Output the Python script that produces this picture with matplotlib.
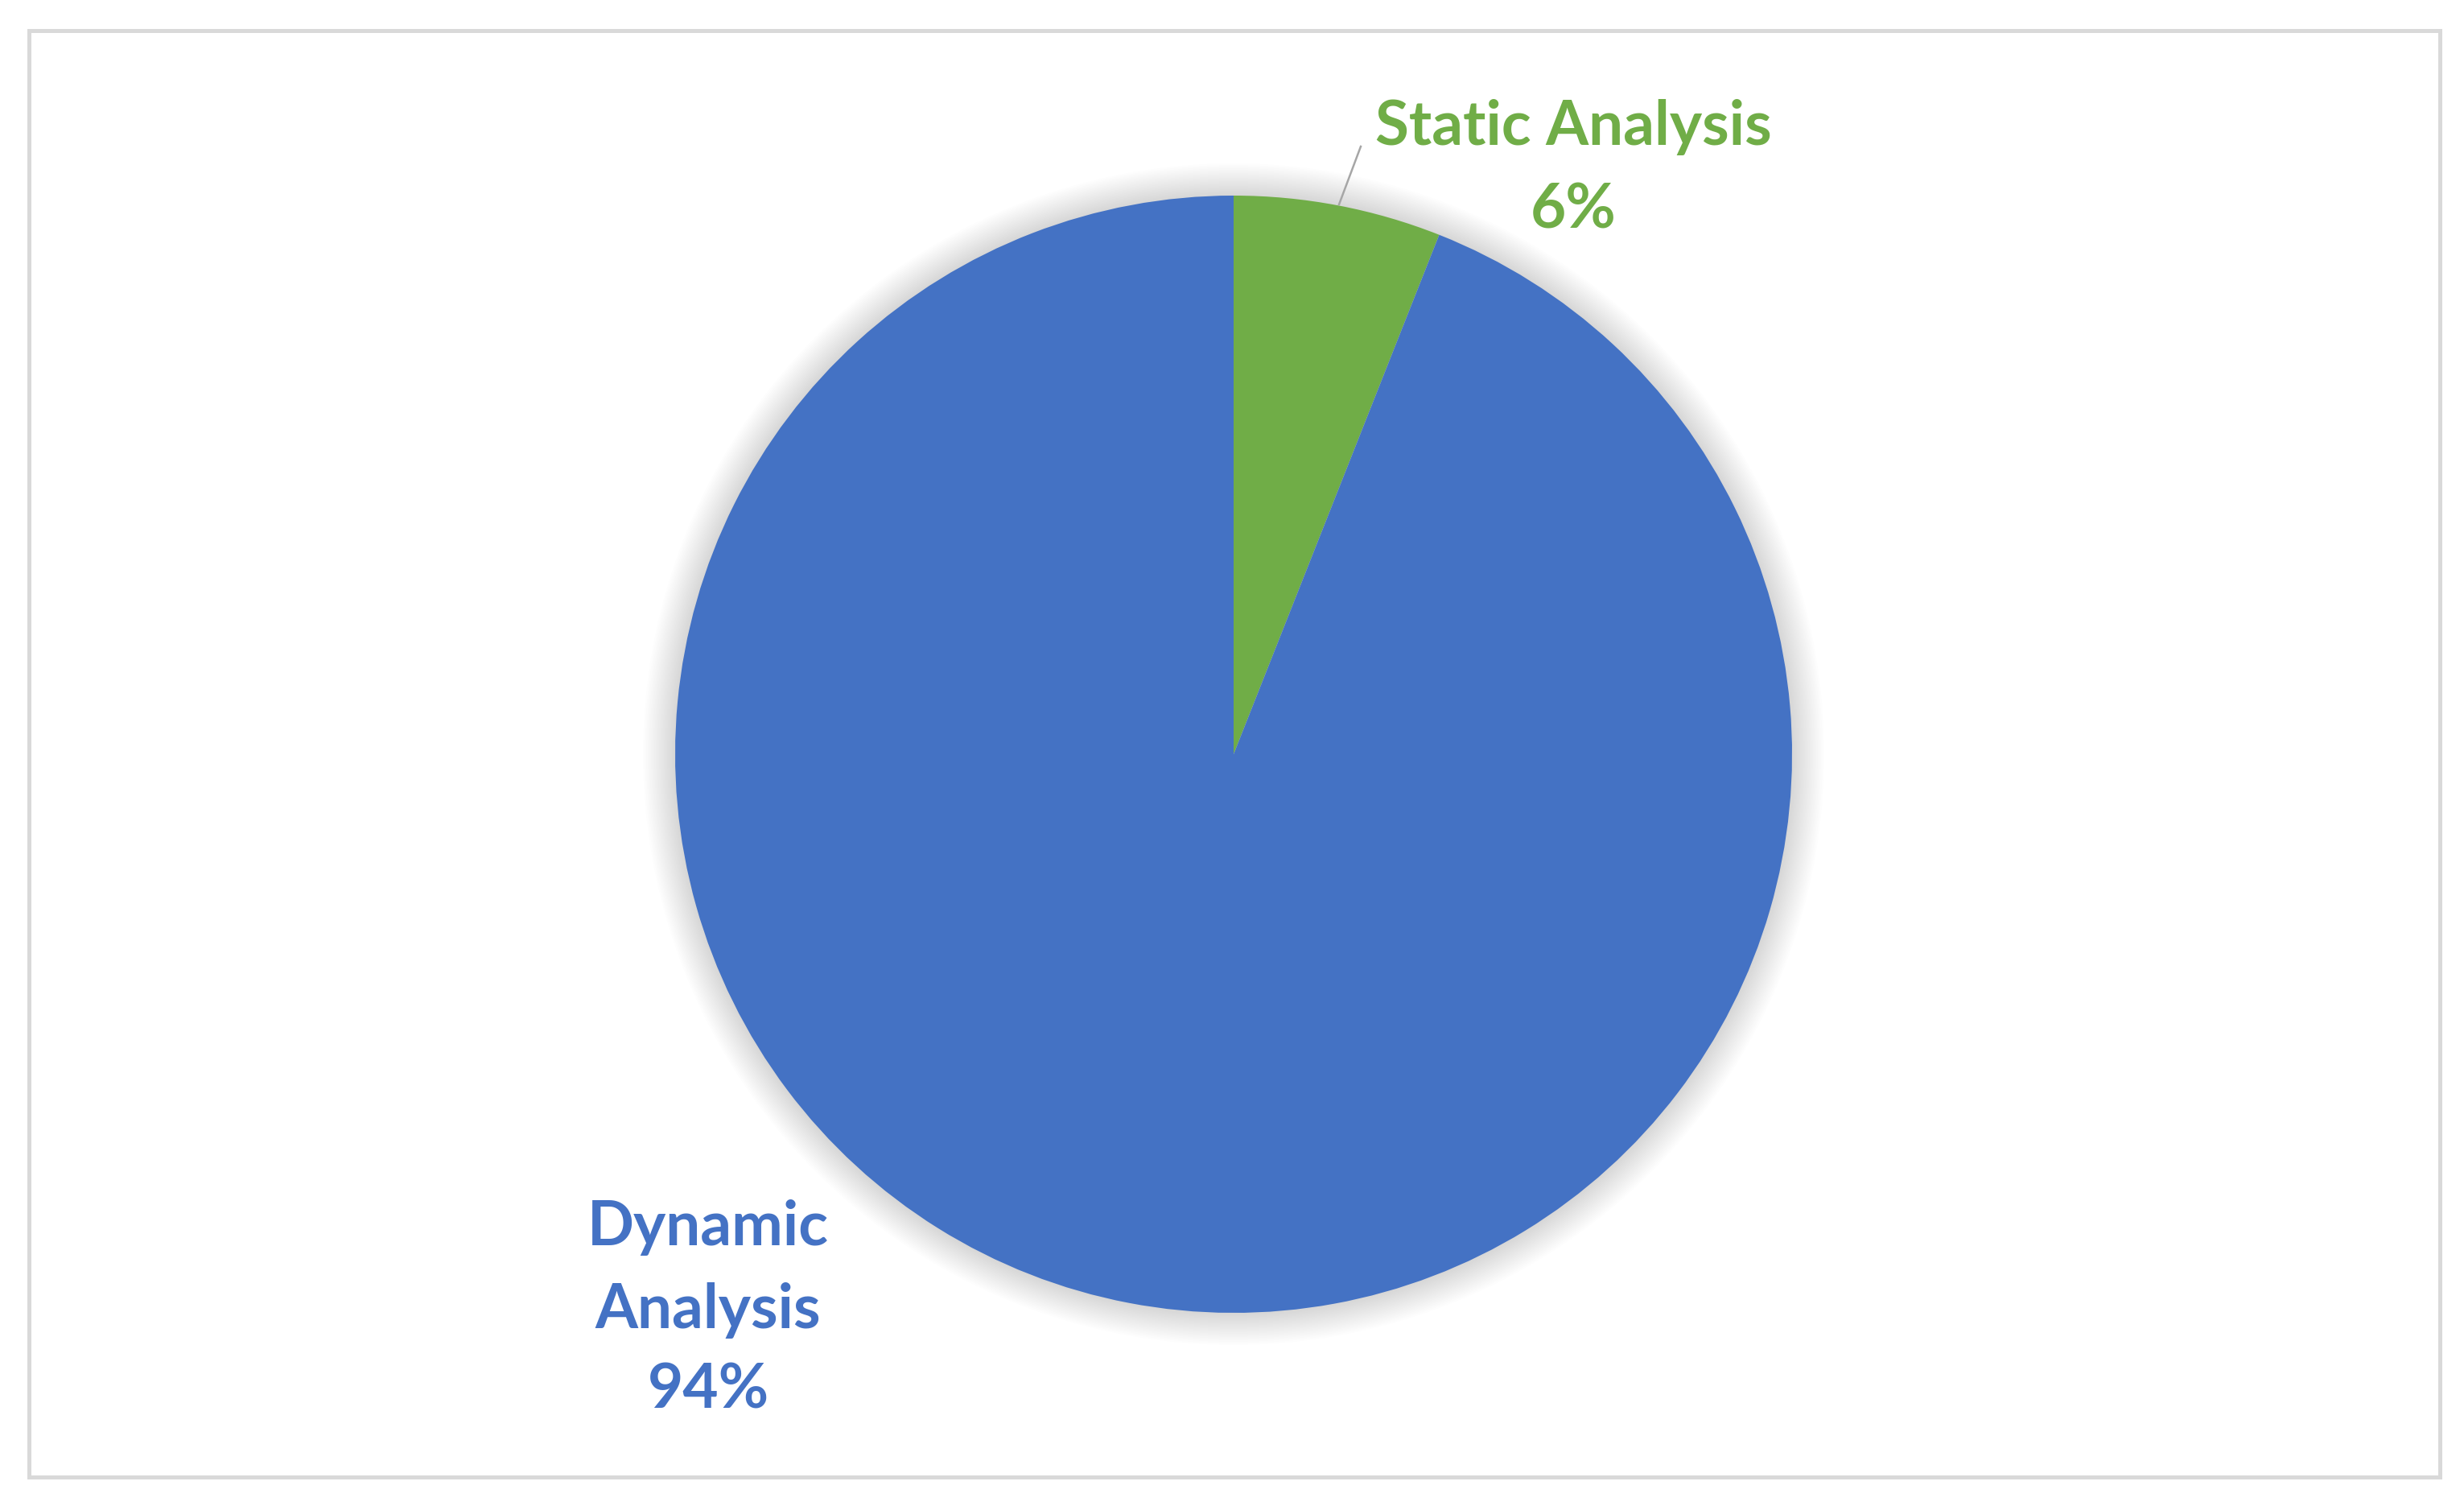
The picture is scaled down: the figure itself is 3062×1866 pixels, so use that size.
import matplotlib.pyplot as plt
from matplotlib.patches import Circle, Rectangle

categories = ['Static Analysis', 'Dynamic Analysis']
shares = [6, 94]
colors = ['#70AD47', '#4472C4']

W, H = 3062, 1866
fig = plt.figure(figsize=(W / 100, H / 100), dpi=100)
ax = fig.add_axes([0, 0, 1, 1])

cx, cy, r = 1533, H - 937, 694

# soft shadow behind the pie
for k in range(20, 0, -1):
    ax.add_patch(Circle((cx, cy), r + k * 2, color='#000000',
                        alpha=0.0095, lw=0, zorder=1))

ax.pie(shares, colors=colors, startangle=90, counterclock=False,
       center=(cx, cy), radius=r, frame=True,
       wedgeprops=dict(linewidth=0, zorder=2))
ax.set_xlim(0, W)
ax.set_ylim(0, H)
ax.set_aspect('equal')
ax.axis('off')

# chart border
ax.add_patch(Rectangle((36, H - 1835), 2996, 1797, fill=False,
                       edgecolor='#D9D9D9', lw=3.6, zorder=5))

font = dict(family='Lato', weight='bold', fontsize=55)

# static label with leader line
ax.plot([1691, 1664], [H - 182, H - 254], color='#A6A6A6', lw=1.8, zorder=4)
static_lines = [categories[0], f'{shares[0]}%']
for txt, base in zip(static_lines, [180, 283]):
    ax.text(1955, H - base, txt, color=colors[0], ha='center', va='baseline', **font)

# dynamic label
dyn_lines = categories[1].split() + [f'{shares[1]}%']
for txt, base in zip(dyn_lines, [1547, 1650, 1750]):
    ax.text(880, H - base, txt, color=colors[1], ha='center', va='baseline', **font)

fig.savefig('out.png', dpi=100, facecolor='white')
